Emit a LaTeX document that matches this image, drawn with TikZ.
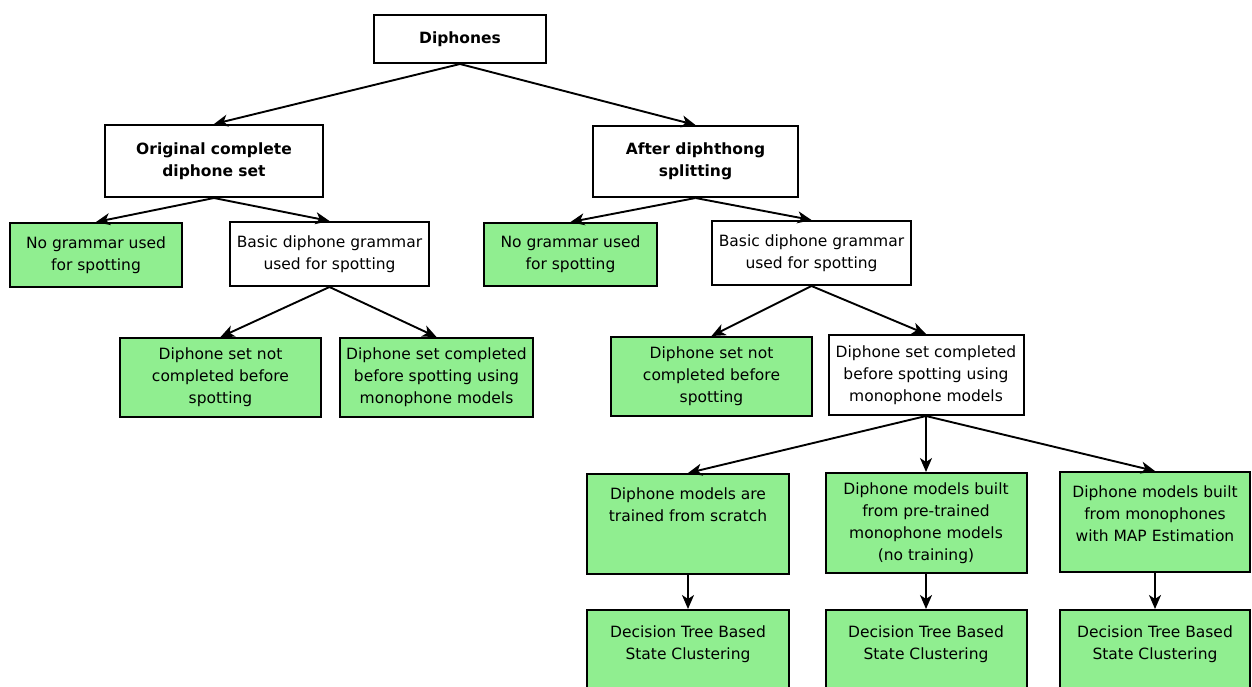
\documentclass[tikz,border=0pt]{standalone}
\usepackage{fontspec}
\setmainfont{DejaVu Sans}
\usetikzlibrary{arrows.meta}
\definecolor{boxgreen}{RGB}{144,238,144}
\begin{document}
\begin{tikzpicture}[x=1pt,y=-1pt,
  font=\fontsize{15.5}{22}\selectfont,
  box/.style={draw=black, line width=2pt, align=center, inner sep=0pt, fill=white},
  gbox/.style={box, fill=boxgreen},
  sz/.style 2 args={minimum width=#1pt, minimum height=#2pt},
  toptext/.style 2 args={label={[align=center, anchor=north, inner sep=0pt, yshift=#1]north:{#2}}},
  link/.style={line width=1.9pt, -{Stealth[length=14pt,width=12pt,inset=4pt]}}
]
\path[use as bounding box] (0,0) rectangle (1252,686);
\clip (0,0) rectangle (1252,686);

% top level
\node[box, sz={172}{48}] (dip) at (460,39) {\textbf{Diphones}};

% second level
\node[box, sz={218}{72}] (orig) at (214,161) {\textbf{Original complete}\\\textbf{diphone set}};
\node[box, sz={205}{71}] (after) at (695.5,161.5) {\textbf{After diphthong}\\\textbf{splitting}};

% grammar choices
\node[gbox, sz={172}{64}] (ng1) at (96,255) {No grammar used\\for spotting};
\node[box,  sz={199}{64}] (bg1) at (329.5,254) {Basic diphone grammar\\used for spotting};
\node[gbox, sz={173}{63}] (ng2) at (570.5,254.5) {No grammar used\\for spotting};
\node[box,  sz={199}{64}] (bg2) at (811.5,253) {Basic diphone grammar\\used for spotting};

% diphone set completion
\node[gbox, sz={201}{79}] (nc1) at (220.5,377.5) {Diphone set not\\completed before\\spotting};
\node[gbox, sz={193}{79}] (cm1) at (436.5,377.5) {Diphone set completed\\before spotting using\\monophone models};
\node[gbox, sz={201}{79}] (nc2) at (711.5,376.5) {Diphone set not\\completed before\\spotting};
\node[box,  sz={195}{80}] (cm2) at (926,375) {Diphone set completed\\before spotting using\\monophone models};

% model building
\node[gbox, sz={202}{100}, toptext={-15pt}{Diphone models are\\trained from scratch}] (m1) at (688,524) {};
\node[gbox, sz={201}{100}] (m2) at (926,523) {Diphone models built\\from pre-trained\\monophone models\\(no training)};
\node[gbox, sz={190}{100}, toptext={-15pt}{Diphone models built\\from monophones\\with MAP Estimation}] (m3) at (1155,522) {};

% clustering
\node[gbox, sz={202}{110}, toptext={-17pt}{Decision Tree Based\\State Clustering}] (d1) at (688,665) {};
\node[gbox, sz={201}{110}, toptext={-17pt}{Decision Tree Based\\State Clustering}] (d2) at (926,665) {};
\node[gbox, sz={190}{110}, toptext={-17pt}{Decision Tree Based\\State Clustering}] (d3) at (1155,665) {};

% connectors
\draw[link] (dip.south) -- (orig.north);
\draw[link] (dip.south) -- (after.north);
\draw[link] (orig.south) -- (ng1.north);
\draw[link] (orig.south) -- (bg1.north);
\draw[link] (after.south) -- (ng2.north);
\draw[link] (after.south) -- (bg2.north);
\draw[link] (bg1.south) -- (nc1.north);
\draw[link] (bg1.south) -- (cm1.north);
\draw[link] (bg2.south) -- (nc2.north);
\draw[link] (bg2.south) -- (cm2.north);
\draw[link] (cm2.south) -- (m1.north);
\draw[link] (cm2.south) -- (m2.north);
\draw[link] (cm2.south) -- (m3.north);
\draw[link] (m1.south) -- (d1.north);
\draw[link] (m2.south) -- (d2.north);
\draw[link] (m3.south) -- (d3.north);
\end{tikzpicture}
\end{document}
